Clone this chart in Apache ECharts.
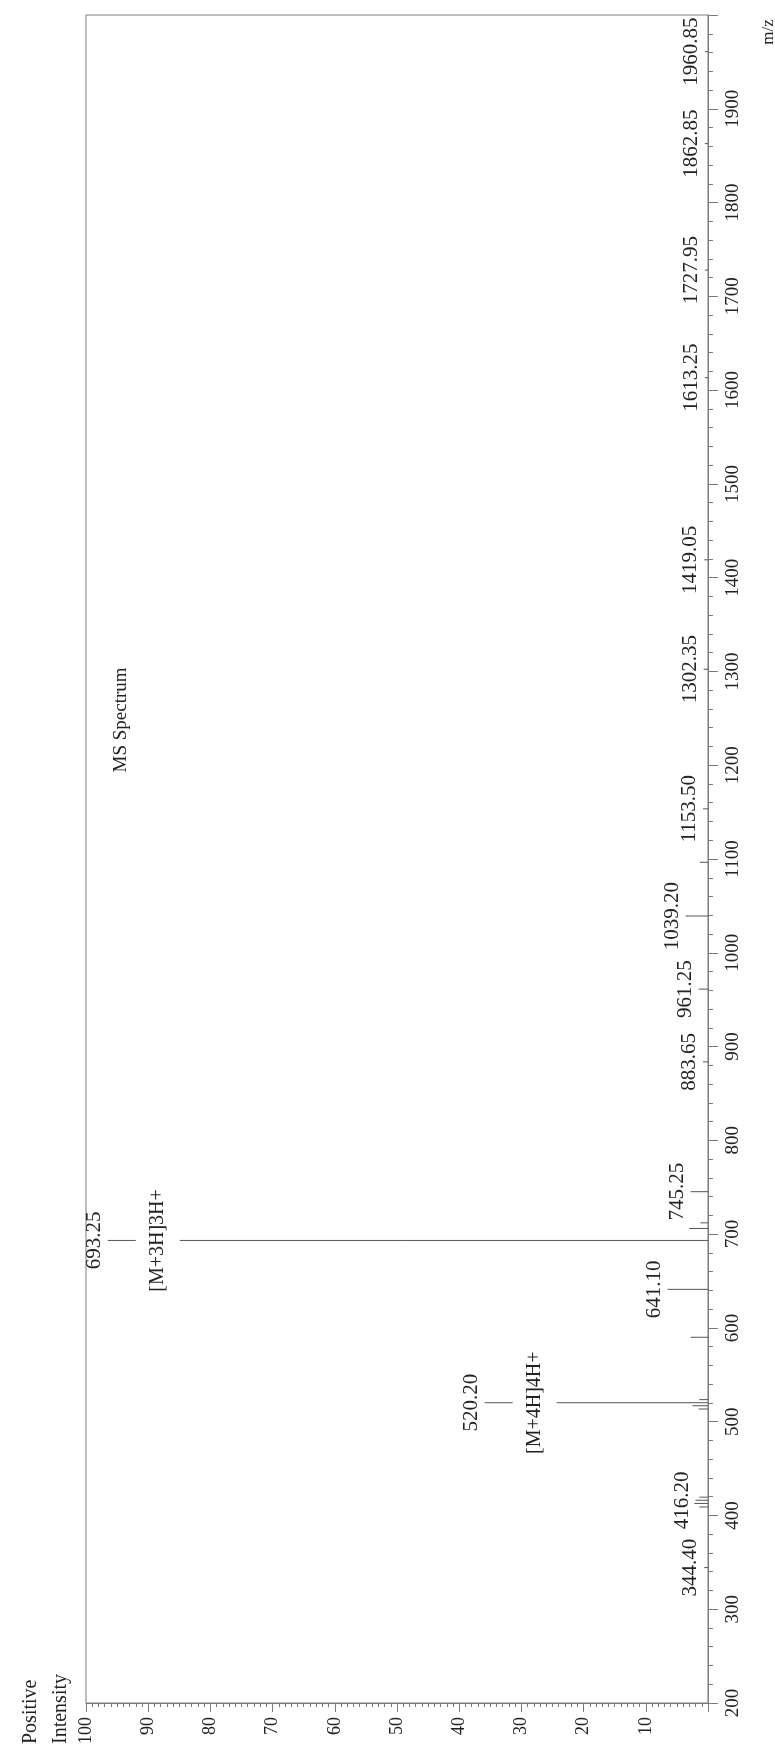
<!DOCTYPE html>
<html><head><meta charset="utf-8">
<script src="https://cdn.jsdelivr.net/npm/echarts@6/dist/echarts.min.js"></script>
<style>html,body{margin:0;padding:0;background:#fff}#c{width:775px;height:1754px}</style>
</head><body><div id="c"></div>
<script>
// Labeled peaks (m/z, relative intensity %)
const labeledMz = [344.40, 416.20, 520.20, 641.10, 693.25, 745.25, 883.65, 961.25, 1039.20, 1153.50, 1302.35, 1419.05, 1613.25, 1727.95, 1862.85, 1960.85];
const labeledIntensity = [0.6, 2.0, 35.9, 6.5, 96.5, 2.8, 0.8, 1.5, 3.6, 0.8, 0.7, 0.6, 0.5, 0.5, 0.5, 0.5];
// Unlabeled small peaks
const minorMz = [409.0, 412.8, 419.5, 513.5, 517.0, 523.5, 590.0, 706.0, 712.0, 1096.5];
const minorIntensity = [1.4, 2.2, 1.4, 1.5, 2.5, 1.4, 2.8, 3.0, 1.2, 1.3];
// Ion annotations
const annotMz = [520.20, 693.25];
const annotIntensity = [35.9, 96.5];
const annotText = ['[M+4H]4H+', '[M+3H]3H+'];

const FONT = 'Liberation Serif';
const INK = '#222';
const AXIS = '#7a7a7a';
const PEAK = '#555';

const peakData = [];
labeledMz.forEach((m, i) => peakData.push([labeledIntensity[i], m, 1]));
minorMz.forEach((m, i) => peakData.push([minorIntensity[i], m, 0]));
const annotData = annotMz.map((m, i) => [annotIntensity[i], m, i]);

const chart = echarts.init(document.getElementById('c'));
chart.setOption({
  backgroundColor: '#fff',
  animation: false,
  grid: { left: 86, right: 67, top: 15, bottom: 51, show: true, borderColor: AXIS, borderWidth: 1 },
  xAxis: {
    type: 'value', min: 0, max: 100, interval: 10, inverse: true, position: 'bottom',
    axisLine: { show: true, lineStyle: { color: AXIS } },
    axisTick: { show: true, length: 9, lineStyle: { color: AXIS } },
    minorTick: { show: true, splitNumber: 10, length: 4, lineStyle: { color: AXIS } },
    splitLine: { show: false },
    axisLabel: { rotate: 90, margin: 14, fontSize: 18, fontFamily: FONT, color: INK,
      formatter: v => v === 0 ? '' : String(v) }
  },
  yAxis: {
    type: 'value', min: 200, max: 2000, interval: 100, position: 'right',
    axisLine: { show: true, lineStyle: { color: AXIS } },
    axisTick: { show: true, length: 10, lineStyle: { color: AXIS } },
    minorTick: { show: true, splitNumber: 5, length: 5, lineStyle: { color: AXIS } },
    splitLine: { show: false },
    axisLabel: { rotate: 90, margin: 16, fontSize: 19, fontFamily: FONT, color: INK,
      formatter: v => v === 2000 ? '' : String(v) }
  },
  graphic: [
    { type: 'text', x: 121, y: 720, rotation: Math.PI / 2,
      style: { text: 'MS Spectrum', fontFamily: FONT, fontSize: 19, fill: INK, align: 'center', verticalAlign: 'middle' } },
    { type: 'text', x: 31, y: 1744, rotation: Math.PI / 2,
      style: { text: 'Positive', fontFamily: FONT, fontSize: 20, fill: INK, align: 'left', verticalAlign: 'middle' } },
    { type: 'text', x: 61, y: 1744, rotation: Math.PI / 2,
      style: { text: 'Intensity', fontFamily: FONT, fontSize: 20, fill: INK, align: 'left', verticalAlign: 'middle' } },
    { type: 'text', x: 769, y: 32, rotation: Math.PI / 2,
      style: { text: 'm/z', fontFamily: FONT, fontSize: 17, fill: INK, align: 'center', verticalAlign: 'middle' } }
  ],
  series: [
    {
      type: 'custom', clip: false, encode: { x: 0, y: 1 }, data: peakData, z: 2,
      renderItem: (params, api) => {
        const inten = api.value(0), mz = api.value(1), lab = api.value(2);
        const base = api.coord([0, mz]);
        const top = api.coord([inten, mz]);
        const children = [{ type: 'line', shape: { x1: base[0], y1: base[1], x2: top[0], y2: top[1] },
          style: { stroke: PEAK, lineWidth: 1 } }];
        if (lab) {
          children.push({ type: 'text', x: top[0] - 3, y: top[1], rotation: Math.PI / 2,
            style: { text: mz.toFixed(2), fontFamily: FONT, fontSize: 21, fill: INK, align: 'center', verticalAlign: 'bottom' } });
        }
        return { type: 'group', children };
      }
    },
    {
      type: 'custom', clip: false, encode: { x: 0, y: 1 }, data: annotData, z: 5,
      renderItem: (params, api) => {
        const inten = api.value(0), mz = api.value(1), idx = api.value(2);
        const top = api.coord([inten, mz]);
        return { type: 'text', x: top[0] + 50, y: top[1], rotation: Math.PI / 2,
          style: { text: annotText[idx], fontFamily: FONT, fontSize: 20, fill: INK, align: 'center', verticalAlign: 'middle',
            backgroundColor: '#fff', padding: [12, 2, 12, 2] } };
      }
    }
  ]
});
</script></body></html>
